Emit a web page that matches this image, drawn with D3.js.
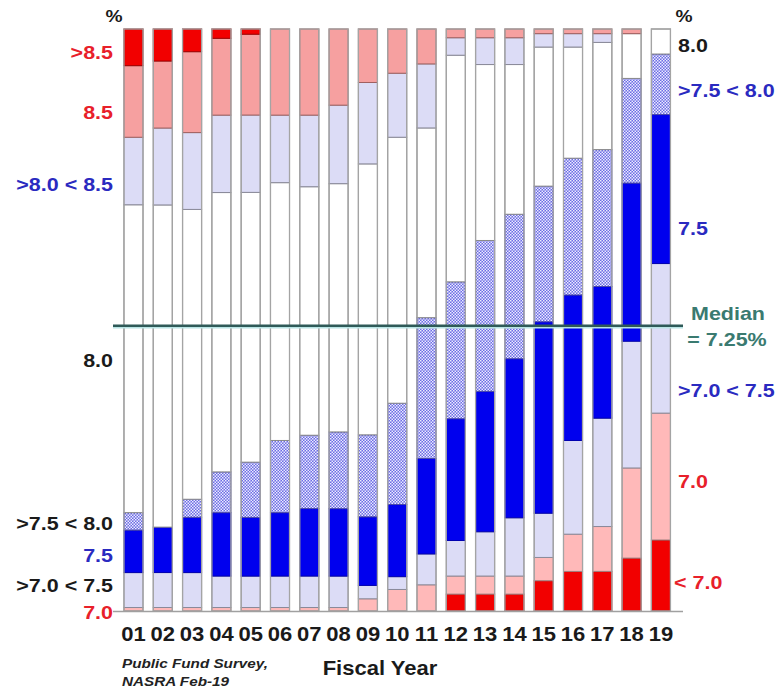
<!DOCTYPE html>
<html><head><meta charset="utf-8">
<script src="https://cdn.jsdelivr.net/npm/d3@7"></script>
<style>
body{margin:0;background:#fff}
text{font-family:"Liberation Sans",Arial,sans-serif;font-weight:bold}
</style>
</head><body>
<svg id="c" width="780" height="691"></svg>
<script>
// ---- data (percent of plans by assumed return, fiscal years 01..19) ----
const years = ["01","02","03","04","05","06","07","08","09","10","11","12","13","14","15","16","17","18","19"];
const keys = ["lt70","r70","r70_75","r75","r75_80","r80","r80_85","r85","gt85"];
const lt70   = [0,0,0,0,0,0,0,0,0,0,0,2.9,2.9,2.9,5.2,6.8,6.8,9.1,12.2];
const r70    = [0.6,0.6,0.6,0.6,0.6,0.6,0.6,0.6,2.1,3.7,4.5,3.1,3.1,3.1,4.0,6.4,7.7,15.5,21.8];
const r70_75 = [6.0,6.0,6.0,5.4,5.4,5.4,5.4,5.4,2.3,2.2,5.3,6.1,7.6,10.0,7.6,16.1,18.6,21.8,25.7];
const r75    = [7.3,7.8,9.5,10.9,10.1,10.9,11.6,11.6,11.8,12.4,16.4,20.9,24.1,27.3,32.9,25.0,22.6,27.2,25.6];
const r75_80 = [3.0,0,3.1,7.0,9.5,12.4,12.6,13.2,14.1,17.4,24.2,23.5,25.9,24.8,23.3,23.5,23.5,18.0,10.4];
const r80    = [52.9,55.3,49.8,48.0,46.4,44.3,42.7,42.7,46.6,45.7,32.6,38.9,30.2,25.7,23.9,19.1,18.4,7.7,4.3];
const r80_85 = [11.6,13.2,13.2,13.3,13.3,11.6,12.3,13.5,14.0,11.0,11.0,3.0,4.6,4.6,2.3,2.3,1.5,0,0];
const r85    = [12.3,11.5,13.9,13.2,13.9,14.8,14.8,13.1,9.2,7.6,6.0,1.5,1.5,1.5,0.8,0.8,0.8,0.8,0];
const gt85   = [6.3,5.5,3.9,1.6,0.9,0,0,0,0,0,0,0,0,0,0,0,0,0,0];
const medianShare = 0.49; // position of median line (share of plans)

const leftLabels = [
  {t:">8.5", y:52, c:"#e8202a"},
  {t:"8.5", y:112, c:"#e8202a"},
  {t:">8.0 < 8.5", y:184, c:"#2a2ac0"},
  {t:"8.0", y:360, c:"#1a1a1a"},
  {t:">7.5 < 8.0", y:523, c:"#1a1a1a"},
  {t:"7.5", y:555, c:"#2a2ac0"},
  {t:">7.0 < 7.5", y:585, c:"#1a1a1a"},
  {t:"7.0", y:612, c:"#e8202a"}
];
const rightLabels = [
  {t:"8.0", y:45, c:"#1a1a1a"},
  {t:">7.5 < 8.0", y:90, c:"#2a2ac0"},
  {t:"7.5", y:228, c:"#2a2ac0"},
  {t:">7.0 < 7.5", y:390, c:"#2a2ac0"},
  {t:"7.0", y:481, c:"#e8202a"},
  {t:"< 7.0", y:582, c:"#e8202a"}
];

const colors = {
  lt70:"#f20000", r70:"#ffb9b9", r70_75:"#dcdcf6", r75:"#0000ee",
  r75_80:"url(#hatch)", r80:"#ffffff", r80_85:"#dcdcf6", r85:"#f6a0a0", gt85:"#f20000"
};
const strokes = {
  lt70:"#b00000", r70:"#a08080", r70_75:"#8a8a9a", r75:"#0000b0",
  r75_80:"#4a4aa8", r80:"#8a8a8a", r80_85:"#8a8a9a", r85:"#a06060", gt85:"#a00000"
};

const series = {lt70, r70, r70_75, r75, r75_80, r80, r80_85, r85, gt85};
const rows = years.map((y,i)=>{ const o={year:y}; keys.forEach(k=>o[k]=series[k][i]); return o; });

const SX = 1.13; // horizontal stretch of the original lettering
const svg = d3.select("#c");
const defs = svg.append("defs");
const pat = defs.append("pattern").attr("id","hatch").attr("patternUnits","userSpaceOnUse")
  .attr("width",3).attr("height",3);
pat.append("rect").attr("width",3).attr("height",3).attr("fill","#6c6ce4");
pat.append("rect").attr("x",0).attr("y",0).attr("width",1.5).attr("height",1.5).attr("fill","#ececff");
pat.append("rect").attr("x",1.5).attr("y",1.5).attr("width",1.5).attr("height",1.5).attr("fill","#ececff");

const x = d3.scaleBand().domain(years).range([113.7, 680.7]).padding(0.35);
const y = d3.scaleLinear().domain([0,1]).range([611, 29]);

const stack = d3.stack().keys(keys).offset(d3.stackOffsetExpand);
const stacked = stack(rows);

const g = svg.append("g");
stacked.forEach(s=>{
  g.selectAll(null).data(s.filter(d=>d[1]-d[0]>0)).enter().append("rect")
    .attr("x", d=>x(d.data.year))
    .attr("y", d=>y(d[1]))
    .attr("width", x.bandwidth())
    .attr("height", d=>y(d[0])-y(d[1]))
    .attr("fill", colors[s.key])
    .attr("stroke", strokes[s.key])
    .attr("stroke-width", 1);
});
// bar outlines
g.selectAll(null).data(rows).enter().append("rect")
  .attr("x", d=>x(d.year)).attr("y", y(1))
  .attr("width", x.bandwidth()).attr("height", y(0)-y(1))
  .attr("fill","none").attr("stroke","#a4a4a4").attr("stroke-width",1.3);

// baseline
svg.append("line").attr("x1",113).attr("x2",683).attr("y1",y(0)+0.5).attr("y2",y(0)+0.5)
  .attr("stroke","#a0a0a0").attr("stroke-width",1.5);

// median line
const my = y(medianShare);
svg.append("line").attr("x1",113).attr("x2",683).attr("y1",my+2).attr("y2",my+2)
  .attr("stroke","#b8e4e4").attr("stroke-width",1.5);
svg.append("line").attr("x1",113).attr("x2",683).attr("y1",my).attr("y2",my)
  .attr("stroke","#2f5a58").attr("stroke-width",2.5);

function label(px, py, t, o){
  o = o || {};
  return svg.append("text")
    .attr("transform", `translate(${px},${py}) scale(${o.sx||SX},1)`)
    .attr("dy", o.dy || "0.36em")
    .attr("text-anchor", o.anchor || "start")
    .attr("font-size", o.size || 19)
    .attr("font-style", o.italic ? "italic" : null)
    .attr("fill", o.color || "#1a1a1a")
    .text(t);
}

// x axis labels
const xAxis = d3.axisBottom(x).tickSize(0).tickPadding(0);
const ax = svg.append("g").attr("transform",`translate(0,${627})`).call(xAxis);
ax.select(".domain").remove();
ax.selectAll("text").attr("font-size",19.5).attr("fill","#1a1a1a")
  .attr("transform",`scale(${SX},1)`)
  .attr("font-family","'Liberation Sans',Arial,sans-serif").attr("font-weight","bold");

label(380, 668, "Fiscal Year", {anchor:"middle", size:19.5});
label(122, 663, "Public Fund Survey,", {size:13.5, italic:true, color:"#222"});
label(122, 681, "NASRA Feb-19", {size:13.5, italic:true, color:"#222"});

// percent signs
label(114, 16, "%", {anchor:"middle", size:17});
label(684, 16, "%", {anchor:"middle", size:17});

leftLabels.forEach(d=>label(113, d.y, d.t, {anchor:"end", color:d.c}));
rightLabels.forEach(d=>label(d.t.startsWith("<")?674:678, d.y, d.t, {color:d.c}));

label(728, 313, "Median", {anchor:"middle", color:"#3a7a70"});
label(727, 339, "= 7.25%", {anchor:"middle", color:"#3a7a70"});
</script>
</body></html>
